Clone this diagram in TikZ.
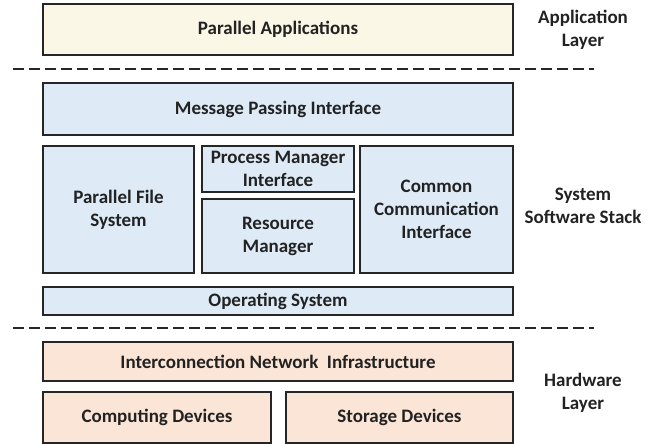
\documentclass[tikz,border=0pt]{standalone}
\usepackage{fontspec}
\setmainfont{Carlito}
\definecolor{edge}{HTML}{262626}
\definecolor{ink}{HTML}{222222}
\definecolor{appfill}{HTML}{FBF7E6}
\definecolor{swfill}{HTML}{DEEBF7}
\definecolor{hwfill}{HTML}{FBE5D6}
\begin{document}
\begin{tikzpicture}[x=1pt,y=-1pt,
  every node/.style={font=\bfseries\fontsize{19}{23}\selectfont, text=ink, align=center},
  layerbox/.style={draw=edge, line width=1.8pt, inner sep=0pt},
  app/.style={layerbox, fill=appfill},
  sw/.style={layerbox, fill=swfill},
  hw/.style={layerbox, fill=hwfill},
  sep/.style={draw=edge, line width=1.4pt, dash pattern=on 10.7pt off 5.3pt},
  layerlabel/.style={}]
\useasboundingbox (0,0) rectangle (667,444);

% application layer
\node[app, minimum width=470pt, minimum height=51pt] (apps) at (278,29.5) {Parallel Applications};

% separators between the layers
\coordinate (s1a) at (13,69);  \coordinate (s1b) at (594,69);
\coordinate (s2a) at (13,328); \coordinate (s2b) at (594,328);
\draw[sep] (s1a) -- (s1b);
\draw[sep] (s2a) -- (s2b);

% system software stack
\node[sw, minimum width=470pt, minimum height=52pt] (mpi) at (278,109) {Message Passing Interface};
\node[sw, minimum width=151pt, minimum height=127pt] (pfs) at (118.5,209.5) {Parallel File\\System};
\node[sw, minimum width=152pt, minimum height=46pt] (pmi) at (278,169) {Process Manager\\Interface};
\node[sw, minimum width=152pt, minimum height=74pt] (rm) at (278,236) {Resource\\Manager};
\node[sw, minimum width=153pt, minimum height=127pt] (cci) at (436.5,209.5) {Common\\Communication\\Interface};
\node[sw, minimum width=470pt, minimum height=28pt] (os) at (278,301) {Operating System};

% hardware layer
\node[hw, minimum width=470pt, minimum height=39pt] (net) at (278,361.5) {Interconnection Network~~Infrastructure};
\node[hw, minimum width=228pt, minimum height=51pt] (comp) at (157,417.5) {Computing Devices};
\node[hw, minimum width=227pt, minimum height=51pt] (stor) at (399.5,417.5) {Storage Devices};

% layer names
\node[layerlabel] (lapp) at (583,29.5) {Application\\Layer};
\node[layerlabel] (lsw) at (583,206) {System\\Software Stack};
\node[layerlabel] (lhw) at (583,393) {Hardware\\Layer};
\end{tikzpicture}
\end{document}
